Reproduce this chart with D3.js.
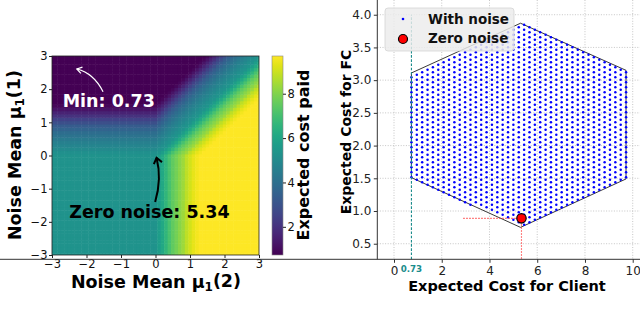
<!DOCTYPE html>
<html lang="en">
<head>
<meta charset="UTF-8">
<title>Expected cost under noise</title>
<style>
  body { margin: 0; background: #fff; }
  svg { display: block; font-family: "DejaVu Sans", sans-serif; }
</style>
</head>
<body>
<svg id="chart" width="640" height="310"></svg>
<script src="https://cdn.jsdelivr.net/npm/d3@7"></script>
<script>
// ---- left panel data: cost read along the offset max(mu2,0) - max(mu1,0), step 0.1
const offsetStart = -3, offsetStep = 0.1;
const costProfile = [
  0.73, 0.73, 0.73, 0.73, 0.73, 0.73, 0.73, 0.73, 0.73, 0.73, 0.73, 0.73, 0.73, 0.73, 0.73,
  0.9, 1.2, 1.6, 2.0, 2.5, 2.9, 3.3, 3.6, 3.9, 4.15, 4.4, 4.6, 4.8, 5.0, 5.2,
  5.34,
  5.7, 6.1, 6.6, 7.1, 7.5, 7.8, 8.1, 8.4, 8.8, 9.1, 9.35, 9.55, 9.7,
  9.7, 9.7, 9.7, 9.7, 9.7, 9.7, 9.7, 9.7, 9.7, 9.7, 9.7, 9.7, 9.7, 9.7, 9.7, 9.7, 9.7
];
const muTicks = [-3, -2, -1, 0, 1, 2, 3];
const costTicks = [2, 4, 6, 8];
const costMin = 0.73, costMax = 9.7, zeroNoiseCost = 5.34;

// ---- right panel data
const hexClient = [0.73, 5.30, 9.72, 9.72, 5.30, 0.73];
const hexFC     = [1.51, 0.75, 1.49, 3.15, 3.87, 3.11];
const latticeStepClient = 0.2248, latticeStepFC = 0.0765;
const zeroNoise = { client: 5.34, fc: 0.888 };
const clientTicks = [0, 2, 4, 6, 8, 10];
const fcTicks = [0.5, 1.0, 1.5, 2.0, 2.5, 3.0, 3.5, 4.0];

const svg = d3.select("#chart");
const font = "DejaVu Sans";

// ================= left: heatmap =================
const hx = d3.scaleLinear().domain([-3, 3]).range([52, 259]);
const hy = d3.scaleLinear().domain([-3, 3]).range([255, 56]);
const color = d3.scaleSequential(d3.interpolateViridis).domain([costMin, costMax]);

svg.append("clipPath").attr("id", "hclip")
  .append("rect").attr("x", 52).attr("y", 56).attr("width", 207).attr("height", 199);

const grid = d3.range(61).map(i => +(-3 + i * 0.1).toFixed(1));
const cells = [];
grid.forEach(m1 => grid.forEach(m2 => {
  const d = Math.max(m2, 0) - Math.max(m1, 0);
  const k = Math.max(0, Math.min(costProfile.length - 1, Math.round((d - offsetStart) / offsetStep)));
  cells.push({ m1, m2, v: costProfile[k] });
}));

svg.append("g").attr("clip-path", "url(#hclip)")
  .selectAll("rect").data(cells).join("rect")
  .attr("x", d => hx(d.m2 - 0.05))
  .attr("y", d => hy(d.m1 + 0.05))
  .attr("width", hx(0.1) - hx(0) + 0.5)
  .attr("height", hy(0) - hy(0.1) + 0.5)
  .attr("fill", d => color(d.v));

svg.append("rect").attr("x", 52).attr("y", 56).attr("width", 207).attr("height", 199)
  .attr("fill", "none").attr("stroke", "#222").attr("stroke-width", 0.8);

const intFmt = d3.format("d");
const hxAxis = svg.append("g").attr("transform", "translate(0,255)")
  .call(d3.axisBottom(hx).tickValues(muTicks).tickFormat(intFmt).tickSize(3).tickPadding(2));
const hyAxis = svg.append("g").attr("transform", "translate(52,0)")
  .call(d3.axisLeft(hy).tickValues(muTicks).tickFormat(intFmt).tickSize(3).tickPadding(1.5));
[hxAxis, hyAxis].forEach(a => {
  a.select(".domain").remove();
  a.selectAll("text").attr("font-family", font).attr("font-size", "11.5px").attr("fill", "#111");
  a.selectAll("line").attr("stroke", "#222");
});

// colorbar
const cy = d3.scaleLinear().domain([costMin, costMax]).range([255, 56]);
const grad = svg.append("defs").append("linearGradient").attr("id", "vir")
  .attr("x1", 0).attr("y1", 1).attr("x2", 0).attr("y2", 0);
d3.range(0, 1.0001, 0.05).forEach(t => grad.append("stop")
  .attr("offset", t).attr("stop-color", d3.interpolateViridis(t)));
svg.append("rect").attr("x", 272).attr("y", 56).attr("width", 11).attr("height", 199)
  .attr("fill", "url(#vir)").attr("stroke", "#888").attr("stroke-width", 0.6);
const cAxis = svg.append("g").attr("transform", "translate(283,0)")
  .call(d3.axisRight(cy).tickValues(costTicks).tickFormat(intFmt).tickSize(3).tickPadding(1.5));
cAxis.select(".domain").remove();
cAxis.selectAll("text").attr("font-family", font).attr("font-size", "11.5px").attr("fill", "#111");
cAxis.selectAll("line").attr("stroke", "#222");

svg.append("text").attr("transform", "translate(308.5,155) rotate(-90)")
  .attr("text-anchor", "middle").attr("font-weight", "bold").attr("font-size", "16px")
  .text("Expected cost paid");

function muLabel(sel, idx) {
  sel.attr("font-weight", "bold").attr("font-size", "17.5px").attr("text-anchor", "middle");
  sel.append("tspan").text("Noise Mean \u03bc");
  sel.append("tspan").attr("font-size", "12px").attr("dy", "0.25em").text("1");
  sel.append("tspan").attr("dy", "-0.25em").text("(" + idx + ")");
}
svg.append("text").attr("x", 156).attr("y", 288).call(muLabel, 2);
svg.append("text").attr("transform", "translate(21,155) rotate(-90)").call(muLabel, 1);

// annotations
const defs = svg.select("defs");
defs.append("marker").attr("id", "headW").attr("viewBox", "-8 -6 10 12")
  .attr("markerUnits", "userSpaceOnUse").attr("markerWidth", 10).attr("markerHeight", 12)
  .attr("refX", 0).attr("refY", 0).attr("orient", "auto")
  .append("path").attr("d", "M-5,-3.2L0,0L-5,3.2").attr("fill", "none")
  .attr("stroke", "#fff").attr("stroke-width", 1.2);
defs.append("marker").attr("id", "headK").attr("viewBox", "-9 -7 11 14")
  .attr("markerUnits", "userSpaceOnUse").attr("markerWidth", 11).attr("markerHeight", 14)
  .attr("refX", 0).attr("refY", 0).attr("orient", "auto")
  .append("path").attr("d", "M-5.5,-4.2L0,0L-5.5,4.2").attr("fill", "none")
  .attr("stroke", "#000").attr("stroke-width", 2);

const minTip = [-2.28, 2.61], minTail = [-1.52, 1.92];
const minPath = d3.path();
minPath.moveTo(hx(minTail[0]), hy(minTail[1]));
minPath.quadraticCurveTo(94, 73.5, hx(minTip[0]), hy(minTip[1]));
svg.append("path").attr("d", minPath.toString()).attr("fill", "none")
  .attr("stroke", "#fff").attr("stroke-width", 1.2).attr("marker-end", "url(#headW)");
svg.append("text").attr("x", hx(-2.69)).attr("y", hy(1.46))
  .attr("fill", "#fff").attr("font-weight", "bold").attr("font-size", "17.5px")
  .text("Min: " + costMin.toFixed(2));

const zeroTip = [0.03, -0.07], zeroTail = [-0.01, -1.40];
const zeroPath = d3.path();
zeroPath.moveTo(hx(zeroTail[0]), hy(zeroTail[1]));
zeroPath.quadraticCurveTo(162, 179, hx(zeroTip[0]), hy(zeroTip[1]));
svg.append("path").attr("d", zeroPath.toString()).attr("fill", "none")
  .attr("stroke", "#000").attr("stroke-width", 2).attr("marker-end", "url(#headK)");
svg.append("text").attr("x", hx(-2.5)).attr("y", hy(-1.89))
  .attr("fill", "#000").attr("font-weight", "bold").attr("font-size", "17.5px")
  .text("Zero noise: " + zeroNoiseCost.toFixed(2));

// ================= right: feasible costs =================
const sx = d3.scaleLinear().domain([-0.7, 10.4]).range([377.3, 377.3 + 11.1 * 23.87]);
const sy = d3.scaleLinear().domain([0.262, 4.225]).range([259.3, 0]);

const gridG = svg.append("g").attr("stroke", "#b8b8b8").attr("stroke-width", 0.8)
  .attr("stroke-dasharray", "1,1.6");
clientTicks.forEach(t => gridG.append("line").attr("x1", sx(t)).attr("x2", sx(t))
  .attr("y1", sy.range()[1]).attr("y2", sy.range()[0]));
fcTicks.forEach(t => gridG.append("line").attr("x1", sx.range()[0]).attr("x2", 640)
  .attr("y1", sy(t)).attr("y2", sy(t)));

// hexagon outline
const hex = hexClient.map((c, i) => [sx(c), sy(hexFC[i])]);
svg.append("path").attr("d", "M" + hex.join("L") + "Z")
  .attr("fill", "none").attr("stroke", "#222").attr("stroke-width", 0.9);

// points with noise: lattice of the read spacing inside the hexagon
const lower = d3.scaleLinear().domain([hexClient[0], hexClient[1], hexClient[2]])
  .range([hexFC[0], hexFC[1], hexFC[2]]);
const upper = d3.scaleLinear().domain([hexClient[5], hexClient[4], hexClient[3]])
  .range([hexFC[5], hexFC[4], hexFC[3]]);
const noisy = [];
const nCols = Math.round((hexClient[2] - hexClient[0]) / latticeStepClient);
for (let i = 0; i <= nCols; i++) {
  const c = hexClient[0] + i * latticeStepClient;
  const off = (i % 2) * latticeStepFC / 2;
  const lo = lower(c) - 0.005, hi = upper(c) + 0.005;
  let j = Math.ceil((lo - hexFC[1] - off) / latticeStepFC);
  for (let f = hexFC[1] + off + j * latticeStepFC; f <= hi; f += latticeStepFC) {
    noisy.push({ client: c, fc: f });
  }
}
svg.append("g").selectAll("circle").data(noisy).join("circle")
  .attr("cx", d => sx(d.client)).attr("cy", d => sy(d.fc))
  .attr("r", 1.25).attr("fill", "#0000ff");

// reference lines
const teal = "#1a8c8c";
svg.append("line").attr("x1", sx(costMin)).attr("x2", sx(costMin))
  .attr("y1", sy.range()[0]).attr("y2", sy(4.0))
  .attr("stroke", teal).attr("stroke-width", 1.1).attr("stroke-dasharray", "2.6,1.6");
svg.append("line").attr("x1", sx(2.9)).attr("x2", sx(zeroNoise.client))
  .attr("y1", sy(zeroNoise.fc)).attr("y2", sy(zeroNoise.fc))
  .attr("stroke", "#ff3030").attr("stroke-opacity", 0.8).attr("stroke-width", 1.1)
  .attr("stroke-dasharray", "1.5,1.5");
svg.append("line").attr("x1", sx(zeroNoise.client)).attr("x2", sx(zeroNoise.client))
  .attr("y1", sy(zeroNoise.fc)).attr("y2", sy.range()[0])
  .attr("stroke", "#ff3030").attr("stroke-opacity", 0.8).attr("stroke-width", 1.1)
  .attr("stroke-dasharray", "1.5,1.5");

svg.append("circle").attr("cx", sx(zeroNoise.client)).attr("cy", sy(zeroNoise.fc))
  .attr("r", 4.7).attr("fill", "#ff0000").attr("stroke", "#000").attr("stroke-width", 1.2);

// axes
const sxAxis = svg.append("g").attr("transform", `translate(0,${sy.range()[0]})`)
  .call(d3.axisBottom(sx).tickValues(clientTicks).tickFormat(intFmt).tickSize(3.5).tickPadding(3.5));
const syAxis = svg.append("g").attr("transform", `translate(${sx.range()[0]},0)`)
  .call(d3.axisLeft(sy).tickValues(fcTicks).tickFormat(d3.format(".1f")).tickSize(3.5).tickPadding(2.5));
[sxAxis, syAxis].forEach(a => {
  a.select(".domain").attr("stroke", "#333").attr("stroke-width", 1);
  a.selectAll("text").attr("font-family", font).attr("font-size", "12px").attr("fill", "#222");
  a.selectAll("line").attr("stroke", "#333");
});
sxAxis.select(".domain").attr("d", `M0,0H640`);
syAxis.select(".domain").attr("d", `M0,${sy.range()[0]}V0`);

svg.append("text").attr("x", sx(costMin)).attr("y", 272)
  .attr("text-anchor", "middle").attr("fill", teal).attr("font-weight", "bold")
  .attr("font-size", "8.7px").text(costMin.toFixed(2));

svg.append("text").attr("x", 507).attr("y", 290.5).attr("text-anchor", "middle")
  .attr("font-weight", "bold").attr("font-size", "14.5px").text("Expected Cost for Client");
svg.append("text").attr("transform", "translate(350.5,132) rotate(-90)").attr("text-anchor", "middle")
  .attr("font-weight", "bold").attr("font-size", "14px").text("Expected Cost for FC");

// legend
const leg = svg.append("g");
leg.append("rect").attr("x", 385).attr("y", 8).attr("width", 129).attr("height", 43).attr("rx", 3)
  .attr("fill", "#ececec").attr("fill-opacity", 0.82).attr("stroke", "#d4d4d4").attr("stroke-width", 0.8);
leg.append("circle").attr("cx", 403).attr("cy", 19).attr("r", 1.3).attr("fill", "#0000ff");
leg.append("circle").attr("cx", 403).attr("cy", 39).attr("r", 4.5)
  .attr("fill", "#ff0000").attr("stroke", "#000").attr("stroke-width", 1.2);
[["With noise", 19], ["Zero noise", 38.5]].forEach(([t, y]) =>
  leg.append("text").attr("x", 428).attr("y", y).attr("dy", "0.36em")
    .attr("font-weight", "bold").attr("font-size", "13.5px").attr("fill", "#111").text(t));
</script>
</body>
</html>
